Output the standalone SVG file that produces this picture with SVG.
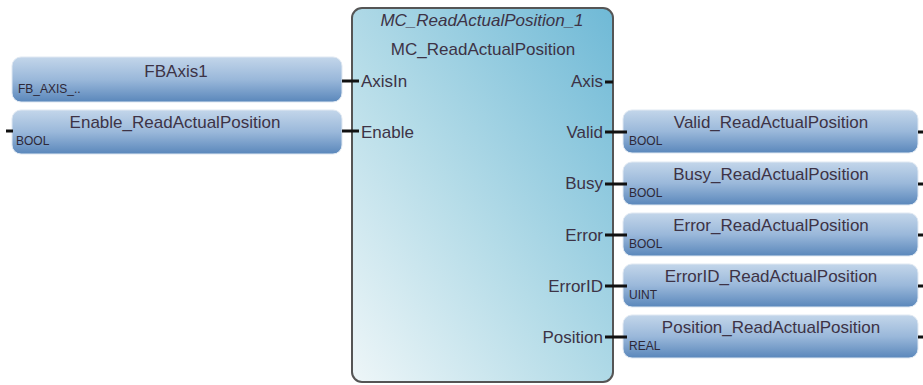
<svg xmlns="http://www.w3.org/2000/svg" width="923" height="385" viewBox="0 0 923 385">
<defs>
<linearGradient id="blk" x1="1" y1="0" x2="0" y2="1">
<stop offset="0" stop-color="#6fb9d6"/>
<stop offset="0.55" stop-color="#b5dce8"/>
<stop offset="1" stop-color="#eef6f8"/>
</linearGradient>
<linearGradient id="var" x1="0" y1="0" x2="0" y2="1">
<stop offset="0" stop-color="#c3d6ea"/>
<stop offset="0.5" stop-color="#9ab8da"/>
<stop offset="1" stop-color="#5a87bb"/>
</linearGradient>
<style>
.box{fill:url(#var);stroke:#dfe8f2;stroke-width:1}
.nm{font-family:"Liberation Sans",Arial,sans-serif;font-size:17px;fill:#3d3346;text-anchor:middle}
.ty{font-family:"Liberation Sans",Arial,sans-serif;font-size:12px;fill:#2d2838}
.pin{font-family:"Liberation Sans",Arial,sans-serif;font-size:17px;fill:#3d3346}
.w{stroke:#111;stroke-width:3;fill:none}
</style>
</defs>
<g id="block">
<rect x="352" y="8" width="261" height="374" rx="10" fill="url(#blk)" stroke="#555" stroke-width="2"/>
<text x="482" y="26" class="nm" font-style="italic">MC_ReadActualPosition_1</text>
<text x="483" y="55" class="nm">MC_ReadActualPosition</text>
<text x="361" y="87" class="pin">AxisIn</text>
<text x="361" y="138" class="pin">Enable</text>
<text x="603" y="87" class="pin" text-anchor="end">Axis</text>
<text x="603" y="138" class="pin" text-anchor="end">Valid</text>
<text x="603" y="189" class="pin" text-anchor="end">Busy</text>
<text x="603" y="241" class="pin" text-anchor="end">Error</text>
<text x="603" y="292" class="pin" text-anchor="end">ErrorID</text>
<text x="603" y="343" class="pin" text-anchor="end">Position</text>
</g>
<g id="v_fbaxis">
<rect x="12" y="57" width="330" height="45" rx="9" class="box"/>
<text x="176" y="77" class="nm">FBAxis1</text>
<text x="18" y="93" class="ty">FB_AXIS_..</text>
</g>
<g id="v_enable">
<rect x="12" y="110" width="330" height="44" rx="9" class="box"/>
<text x="175" y="128" class="nm">Enable_ReadActualPosition</text>
<text x="16" y="145" class="ty">BOOL</text>
</g>
<g id="v_valid">
<rect x="623" y="110" width="295" height="43" rx="9" class="box"/>
<text x="771" y="128" class="nm">Valid_ReadActualPosition</text>
<text x="629" y="145" class="ty">BOOL</text>
</g>
<g id="v_busy">
<rect x="623" y="162" width="295" height="43" rx="9" class="box"/>
<text x="771" y="180" class="nm">Busy_ReadActualPosition</text>
<text x="629" y="197" class="ty">BOOL</text>
</g>
<g id="v_error">
<rect x="623" y="213" width="295" height="43" rx="9" class="box"/>
<text x="771" y="231" class="nm">Error_ReadActualPosition</text>
<text x="629" y="248" class="ty">BOOL</text>
</g>
<g id="v_errorid">
<rect x="623" y="264" width="295" height="43" rx="9" class="box"/>
<text x="771" y="282" class="nm">ErrorID_ReadActualPosition</text>
<text x="629" y="299" class="ty">UINT</text>
</g>
<g id="v_position">
<rect x="623" y="315" width="295" height="43" rx="9" class="box"/>
<text x="771" y="333" class="nm">Position_ReadActualPosition</text>
<text x="629" y="350" class="ty">REAL</text>
</g>
<g id="connectors">
<path class="w" d="M342 81H359M342 131H359M6 131H13"/>
<path class="w" d="M605 82H613M605 132H627M605 184H627M605 235H627M605 286H627M605 337H627"/>
<path class="w" d="M918 132H923M918 184H923M918 235H923M918 286H923M918 337H923"/>
</g>
</svg>
